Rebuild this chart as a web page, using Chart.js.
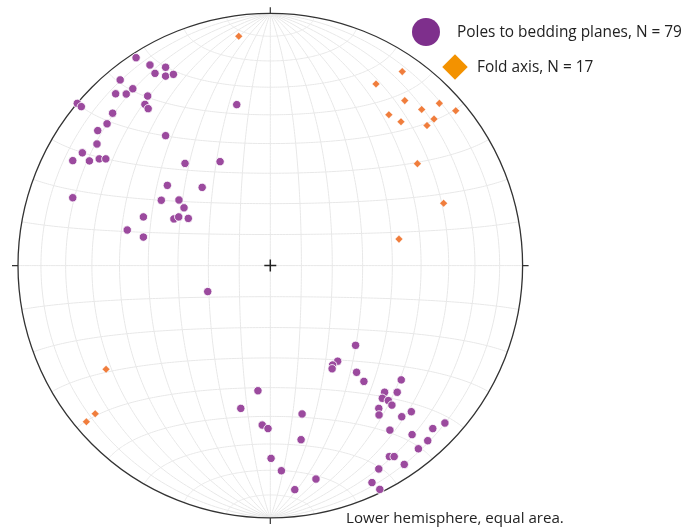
<!DOCTYPE html>
<html>
<head>
<meta charset="utf-8">
<script src="https://cdn.jsdelivr.net/npm/chart.js@4"></script>
<style>
  html, body { margin: 0; padding: 0; background: #fff; }
  #wrap { position: relative; width: 686px; height: 531px; overflow: hidden; }
  #c { position: absolute; left: 0; top: 0; }
  .txt { position: absolute; font-family: "Open Sans", sans-serif; color: #222; white-space: nowrap; line-height: 1; }
  .lg-circle { position: absolute; border-radius: 50%; background: #7e2f8c; }
  .lg-diamond { position: absolute; background: #f39200; transform: rotate(45deg); }
</style>
</head>
<body>
<div id="wrap">
  <canvas id="c" width="686" height="531"></canvas>
  <div class="lg-circle" style="left:412px; top:18px; width:28px; height:28px;"></div>
  <div class="txt" id="lg1" style="left:457px; top:24px; font-size:15.4px;">Poles to bedding planes, N = 79</div>
  <div class="lg-diamond" style="left:446px; top:58px; width:18px; height:18px;"></div>
  <div class="txt" id="lg2" style="left:477px; top:59px; font-size:15.4px;">Fold axis, N = 17</div>
  <div class="txt" id="cap" style="left:346px; top:510px; font-size:15.1px;">Lower hemisphere, equal area.</div>
</div>
<script>
// Poles to bedding planes (equal-area net coordinates, unit circle, +y = North, +x = East)
const poleX = [-0.532,-0.477,-0.415,-0.457,-0.415,-0.384,-0.595,-0.545,-0.613,-0.571,
  -0.486,-0.497,-0.484,-0.765,-0.749,-0.133,-0.625,-0.647,-0.684,-0.415,
  -0.687,-0.745,-0.783,-0.717,-0.678,-0.652,-0.338,-0.199,-0.408,-0.270,
  -0.783,-0.432,-0.362,-0.342,-0.503,-0.382,-0.363,-0.325,-0.567,-0.503,
  -0.248,0.338,0.267,0.247,0.245,0.342,0.371,0.519,-0.049,0.453,
  0.503,0.444,0.468,0.482,0.430,0.431,-0.117,0.126,0.521,0.559,
  -0.032,-0.009,0.692,0.644,0.474,0.562,0.122,0.624,0.587,0.472,
  0.491,0.531,0.003,0.044,0.181,0.430,0.403,0.434,0.097];
const poleY = [0.824,0.795,0.786,0.762,0.751,0.758,0.736,0.701,0.681,0.680,
  0.672,0.639,0.622,0.643,0.630,0.638,0.604,0.562,0.535,0.515,
  0.482,0.447,0.416,0.415,0.423,0.423,0.405,0.412,0.318,0.310,
  0.269,0.259,0.260,0.229,0.193,0.185,0.193,0.187,0.141,0.113,
  -0.103,-0.316,-0.379,-0.394,-0.409,-0.423,-0.459,-0.453,-0.496,-0.502,
  -0.502,-0.526,-0.535,-0.553,-0.566,-0.592,-0.566,-0.588,-0.599,-0.579,
  -0.632,-0.646,-0.624,-0.646,-0.652,-0.670,-0.690,-0.694,-0.726,-0.757,
  -0.757,-0.788,-0.764,-0.813,-0.846,-0.806,-0.860,-0.887,-0.888];

// Fold axes
const axisX = [-0.125,0.523,0.419,0.533,0.670,0.735,0.600,0.470,0.518,0.649,
  0.621,0.583,0.687,0.510,-0.651,-0.694,-0.729];
const axisY = [0.909,0.769,0.720,0.654,0.643,0.614,0.619,0.598,0.570,0.581,
  0.555,0.404,0.247,0.105,-0.411,-0.587,-0.619];

const seriesNames = ["Poles to bedding planes, N = 79", "Fold axis, N = 17"];

const polePts = poleX.map((x, i) => ({ x: x, y: poleY[i] }));
const axisPts = axisX.map((x, i) => ({ x: x, y: axisY[i] }));

// Equal-area (Schmidt) net background, drawn with the chart's scales
const netPlugin = {
  id: 'net',
  beforeDatasetsDraw(chart) {
    const ctx = chart.ctx, xs = chart.scales.x, ys = chart.scales.y;
    const px = v => xs.getPixelForValue(v), py = v => ys.getPixelForValue(v);
    const cx = px(0), cy = py(0), R = px(1) - px(0);
    const proj = (lam, phi) => {
      const l = lam * Math.PI / 180, p = phi * Math.PI / 180;
      const x = Math.cos(p) * Math.sin(l), y = Math.sin(p), z = -Math.cos(p) * Math.cos(l);
      const k = 1 / Math.sqrt(1 - z);
      return [px(x * k), py(y * k)];
    };
    ctx.save();
    ctx.beginPath(); ctx.arc(cx, cy, R, 0, Math.PI * 2); ctx.clip();
    ctx.strokeStyle = '#e8e8e8'; ctx.lineWidth = 1;
    for (let lam = -80; lam <= 80; lam += 10) {
      ctx.beginPath();
      for (let phi = -90; phi <= 90; phi += 1) {
        const [a, b] = proj(lam, phi);
        phi === -90 ? ctx.moveTo(a, b) : ctx.lineTo(a, b);
      }
      ctx.stroke();
    }
    for (let phi = -80; phi <= 80; phi += 10) {
      ctx.beginPath();
      for (let lam = -90; lam <= 90; lam += 1) {
        const [a, b] = proj(lam, phi);
        lam === -90 ? ctx.moveTo(a, b) : ctx.lineTo(a, b);
      }
      ctx.stroke();
    }
    ctx.restore();
    // primitive circle
    ctx.save();
    ctx.strokeStyle = '#333'; ctx.lineWidth = 1.3;
    ctx.beginPath(); ctx.arc(cx, cy, R, 0, Math.PI * 2); ctx.stroke();
    // N/E/S/W ticks
    ctx.lineWidth = 1.2; ctx.strokeStyle = '#333';
    const t = 6;
    ctx.beginPath();
    ctx.moveTo(cx, cy - R); ctx.lineTo(cx, cy - R - t);
    ctx.moveTo(cx, cy + R); ctx.lineTo(cx, cy + R + t);
    ctx.moveTo(cx - R, cy); ctx.lineTo(cx - R - t, cy);
    ctx.moveTo(cx + R, cy); ctx.lineTo(cx + R + t, cy);
    ctx.stroke();
    // centre cross
    ctx.lineWidth = 1.5; ctx.strokeStyle = '#222';
    ctx.beginPath();
    ctx.moveTo(cx - 6, cy); ctx.lineTo(cx + 6, cy);
    ctx.moveTo(cx, cy - 6); ctx.lineTo(cx, cy + 6);
    ctx.stroke();
    ctx.restore();
  }
};

new Chart(document.getElementById('c'), {
  type: 'scatter',
  data: {
    datasets: [
      { label: seriesNames[0], data: polePts, pointStyle: 'circle', pointRadius: 4.2,
        backgroundColor: '#9b4a9e', borderColor: 'rgba(255,255,255,0.85)', borderWidth: 1 },
      { label: seriesNames[1], data: axisPts, pointStyle: 'rectRot', pointRadius: 3.8,
        backgroundColor: '#f07d3c', borderColor: 'rgba(255,255,255,0.6)', borderWidth: 0.5 }
    ]
  },
  options: {
    responsive: false, animation: false, devicePixelRatio: 1,
    layout: { padding: { left: 18, top: 13.3, right: 163.4, bottom: 13.1 } },
    scales: {
      x: { type: 'linear', min: -1, max: 1, display: false },
      y: { type: 'linear', min: -1, max: 1, display: false }
    },
    plugins: { legend: { display: false }, tooltip: { enabled: false } }
  },
  plugins: [netPlugin]
});
</script>
</body>
</html>
